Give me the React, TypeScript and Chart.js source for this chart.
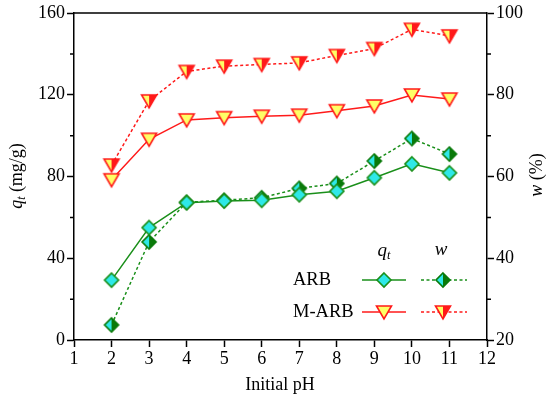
import React, { useEffect, useRef } from "react";
import { Chart, registerables } from "chart.js";
Chart.register(...registerables);

const pH = [2, 3, 4, 5, 6, 7, 8, 9, 10, 11];
const qtARB = [29.3, 55, 67.2, 68, 68.4, 71.1, 72.8, 79.4, 86.2, 81.8];
const qtMARB = [78.4, 98.2, 107.7, 108.8, 109.5, 110, 112.2, 114.5, 119.9, 117.9];
const wARB = [23.7, 44, 53.7, 54.2, 54.8, 57.1, 58.3, 63.8, 69.3, 65.5];
const wMARB = [62.8, 78.5, 85.7, 87, 87.4, 87.8, 89.6, 91.3, 96, 94.4];
const leftMinorTicks = [20, 60, 100, 140];
const rightMinorTicks = [30, 50, 70, 90];
const seriesNames = ["ARB", "M-ARB"];

const GREEN = "#1a8f1a";
const DKGREEN = "#0a7a0a";
const CYAN = "#2ee8e8";
const RED = "#ff1a1a";
const YELLOW = "#ffff66";
const FONT = "Liberation Serif";

function drawMarker(ctx: CanvasRenderingContext2D, kind: string, cx: number, cy: number) {
  ctx.save();
  ctx.lineWidth = 1.6;
  ctx.setLineDash([]);
  ctx.lineJoin = "miter";
  if (kind === "diamond" || kind === "diamondHalf") {
    const r = 7;
    const path = () => {
      ctx.beginPath();
      ctx.moveTo(cx, cy - r);
      ctx.lineTo(cx + r, cy);
      ctx.lineTo(cx, cy + r);
      ctx.lineTo(cx - r, cy);
      ctx.closePath();
    };
    if (kind === "diamond") {
      path();
      ctx.fillStyle = CYAN;
      ctx.fill();
      ctx.strokeStyle = GREEN;
    } else {
      ctx.beginPath();
      ctx.moveTo(cx, cy - r);
      ctx.lineTo(cx + r, cy);
      ctx.lineTo(cx, cy + r);
      ctx.closePath();
      ctx.fillStyle = DKGREEN;
      ctx.fill();
      ctx.beginPath();
      ctx.moveTo(cx, cy - r);
      ctx.lineTo(cx - r, cy);
      ctx.lineTo(cx, cy + r);
      ctx.closePath();
      ctx.fillStyle = CYAN;
      ctx.fill();
      ctx.strokeStyle = DKGREEN;
    }
    path();
    ctx.stroke();
  } else {
    const hw = 7.5, top = cy - 6, bot = cy + 7;
    const path = () => {
      ctx.beginPath();
      ctx.moveTo(cx - hw, top);
      ctx.lineTo(cx + hw, top);
      ctx.lineTo(cx, bot);
      ctx.closePath();
    };
    if (kind === "tri") {
      path();
      ctx.fillStyle = YELLOW;
      ctx.fill();
    } else {
      ctx.beginPath();
      ctx.moveTo(cx, top);
      ctx.lineTo(cx + hw, top);
      ctx.lineTo(cx, bot);
      ctx.closePath();
      ctx.fillStyle = RED;
      ctx.fill();
      ctx.beginPath();
      ctx.moveTo(cx, top);
      ctx.lineTo(cx - hw, top);
      ctx.lineTo(cx, bot);
      ctx.closePath();
      ctx.fillStyle = YELLOW;
      ctx.fill();
    }
    ctx.strokeStyle = RED;
    path();
    ctx.stroke();
  }
  ctx.restore();
}

function markerImage(kind: string): HTMLCanvasElement {
  const c = document.createElement("canvas");
  c.width = 20;
  c.height = 20;
  const ctx = c.getContext("2d")!;
  drawMarker(ctx, kind, 10, 10);
  return c;
}

function drawRich(ctx: CanvasRenderingContext2D, parts: { t: string; italic?: boolean; sub?: boolean }[], cx: number, cy: number, size: number) {
  const fontOf = (p: any) => `${p.italic ? "italic " : ""}${p.sub ? size * 0.65 : size}px ${FONT}`;
  let total = 0;
  const widths = parts.map((p) => {
    ctx.font = fontOf(p);
    const w = ctx.measureText(p.t).width;
    total += w;
    return w;
  });
  let x = cx - total / 2;
  ctx.textBaseline = "middle";
  ctx.textAlign = "left";
  parts.forEach((p, i) => {
    ctx.font = fontOf(p);
    ctx.fillText(p.t, x, p.sub ? cy + size * 0.25 : cy);
    x += widths[i];
  });
}

const decorPlugin = {
  id: "decor",
  afterDraw(chart: any) {
    const ctx: CanvasRenderingContext2D = chart.ctx;
    const { left, right, top } = chart.chartArea;
    const yl = chart.scales.y;
    const yr = chart.scales.y1;
    ctx.save();
    ctx.strokeStyle = "#000";
    ctx.lineWidth = 1.5;
    ctx.beginPath();
    ctx.moveTo(left, top);
    ctx.lineTo(right, top);
    leftMinorTicks.forEach((v) => {
      const y = yl.getPixelForValue(v);
      ctx.moveTo(left, y);
      ctx.lineTo(left - 4, y);
    });
    rightMinorTicks.forEach((v) => {
      const y = yr.getPixelForValue(v);
      ctx.moveTo(right, y);
      ctx.lineTo(right + 4, y);
    });
    ctx.stroke();

    ctx.fillStyle = "#000";
    ctx.save();
    ctx.translate(17, 176);
    ctx.rotate(-Math.PI / 2);
    drawRich(ctx, [{ t: "q", italic: true }, { t: "t", italic: true, sub: true }, { t: " (mg/g)" }], 0, 0, 18);
    ctx.restore();
    ctx.save();
    ctx.translate(537, 175);
    ctx.rotate(-Math.PI / 2);
    drawRich(ctx, [{ t: "w", italic: true }, { t: " (%)" }], 0, 0, 18);
    ctx.restore();
    drawRich(ctx, [{ t: "Initial pH" }], 280, 385, 18);

    drawRich(ctx, [{ t: "q", italic: true }, { t: "t", italic: true, sub: true }], 384, 251, 19);
    drawRich(ctx, [{ t: "w", italic: true }], 441, 250, 19);
    ctx.font = `18.5px ${FONT}`;
    ctx.textAlign = "left";
    ctx.textBaseline = "middle";
    ctx.fillText(seriesNames[0], 293, 280);
    ctx.fillText(seriesNames[1], 293, 312);
    const rows = [
      { y: 280, color: GREEN, m1: "diamond", m2: "diamondHalf" },
      { y: 312, color: RED, m1: "tri", m2: "triHalf" },
    ];
    rows.forEach((r) => {
      ctx.strokeStyle = r.color;
      ctx.lineWidth = 1.5;
      ctx.setLineDash([]);
      ctx.beginPath();
      ctx.moveTo(362, r.y);
      ctx.lineTo(406, r.y);
      ctx.stroke();
      ctx.setLineDash([3, 2.5]);
      ctx.beginPath();
      ctx.moveTo(421, r.y);
      ctx.lineTo(467, r.y);
      ctx.stroke();
      ctx.setLineDash([]);
      drawMarker(ctx, r.m1, 384, r.y);
      drawMarker(ctx, r.m2, 443, r.y);
    });
    ctx.restore();
  },
};

export default function App() {
  const ref = useRef<HTMLCanvasElement>(null);
  useEffect(() => {
    document.body.style.margin = "0";
    Chart.defaults.font.family = FONT;
    Chart.defaults.font.size = 18;
    Chart.defaults.color = "#000";
    const mk = (vals: number[]) => pH.map((x, i) => ({ x, y: vals[i] }));
    const tickFont = { family: FONT, size: 18 };
    const grid = { drawOnChartArea: false, drawTicks: true, tickLength: 7, tickWidth: 1.5, tickColor: "#000" };
    const border = { display: true, color: "#000", width: 1.5 };
    const chart = new Chart(ref.current!, {
      type: "line",
      data: {
        datasets: [
          { data: mk(qtARB), yAxisID: "y", borderColor: GREEN, borderWidth: 1.5, pointStyle: markerImage("diamond") as any },
          { data: mk(qtMARB), yAxisID: "y", borderColor: RED, borderWidth: 1.5, pointStyle: markerImage("tri") as any },
          { data: mk(wARB), yAxisID: "y1", borderColor: GREEN, borderWidth: 1.5, borderDash: [3, 2.5], pointStyle: markerImage("diamondHalf") as any },
          { data: mk(wMARB), yAxisID: "y1", borderColor: RED, borderWidth: 1.5, borderDash: [3, 2.5], pointStyle: markerImage("triHalf") as any },
        ],
      },
      options: {
        animation: false,
        responsive: false,
        devicePixelRatio: 1,
        layout: { padding: { top: 13, left: 0, right: 0, bottom: 0 } },
        plugins: { legend: { display: false }, tooltip: { enabled: false } },
        elements: { line: { tension: 0, fill: false }, point: { radius: 7 } },
        scales: {
          x: {
            type: "linear",
            min: 1,
            max: 12,
            ticks: { stepSize: 1, font: tickFont, color: "#000", padding: 1, maxRotation: 0 },
            grid,
            border,
            afterFit: (s: any) => { s.height = 57; },
          },
          y: {
            type: "linear",
            position: "left",
            min: 0,
            max: 160,
            ticks: { stepSize: 40, font: tickFont, color: "#000", padding: 2 },
            grid,
            border,
            afterFit: (s: any) => { s.width = 74; },
          },
          y1: {
            type: "linear",
            position: "right",
            min: 20,
            max: 100,
            ticks: { stepSize: 20, font: tickFont, color: "#000", padding: 2 },
            grid,
            border,
            afterFit: (s: any) => { s.width = 63; },
          },
        },
      } as any,
      plugins: [decorPlugin],
    });
    return () => chart.destroy();
  }, []);
  return (
    <div style={{ position: "absolute", left: 0, top: 0, width: 550, height: 397 }}>
      <canvas ref={ref} width={550} height={397} style={{ width: 550, height: 397 }} />
    </div>
  );
}
